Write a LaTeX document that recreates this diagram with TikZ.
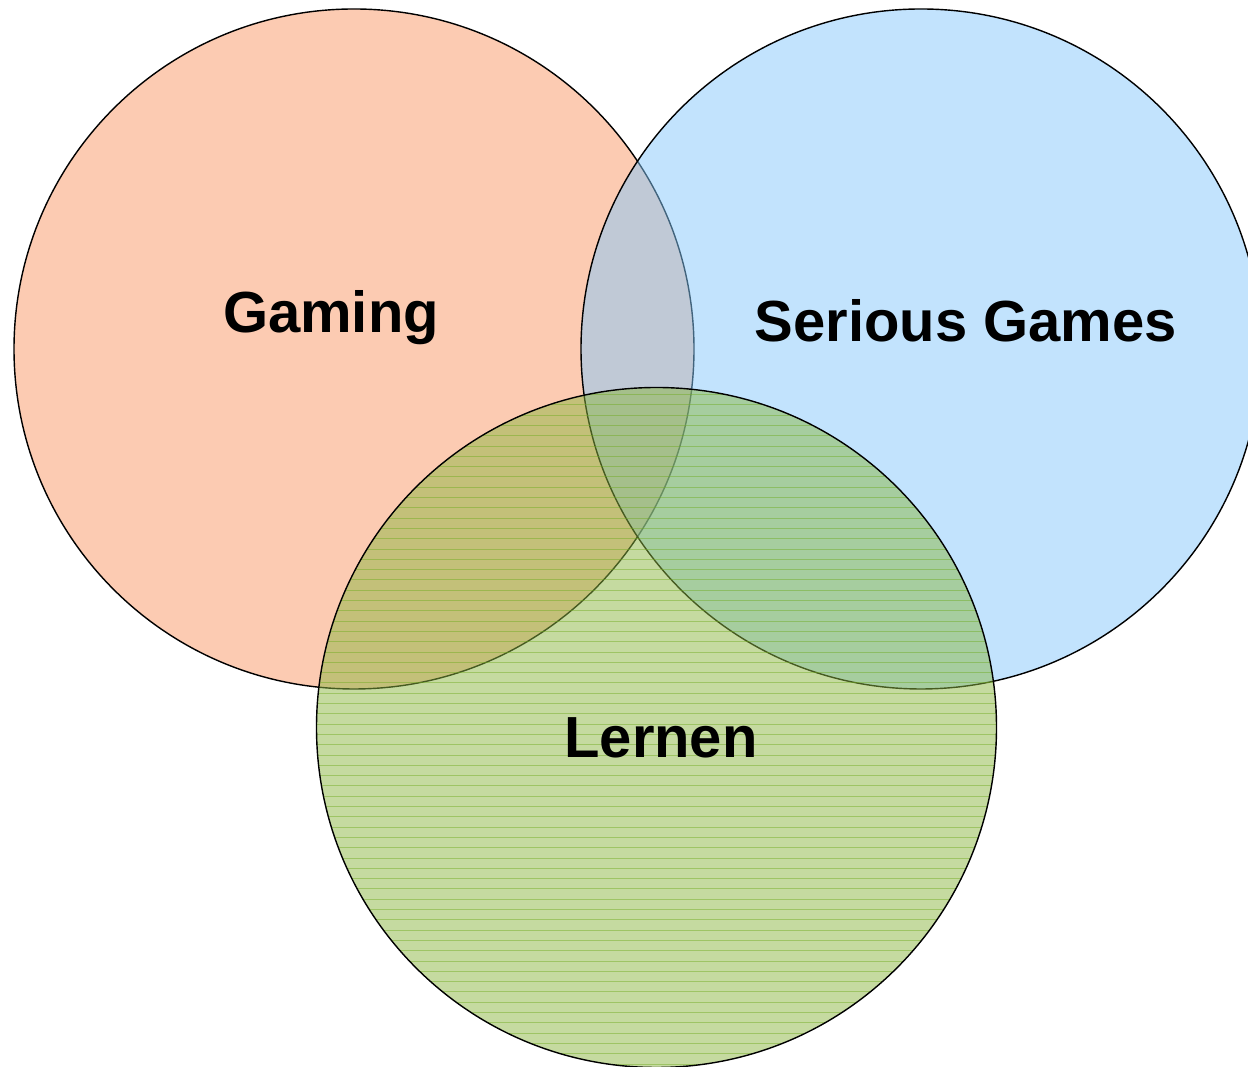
\documentclass[tikz,border=0pt]{standalone}
\usepackage{fontspec}
\setmainfont{Liberation Sans}
\usepackage{xcolor}
\usepackage{tikz}
\definecolor{gamingc}{RGB}{252,203,178}
\definecolor{seriousc}{RGB}{133,200,251}
\definecolor{lernenc}{RGB}{140,182,66}
\definecolor{hatchc}{RGB}{110,170,30}
\tikzset{
  ring/.style={draw=black, line width=0.8pt},
  hatch/.style={draw=hatchc, line width=0.5pt, opacity=0.45},
  lab/.style={text=black, font=\fontsize{33}{40}\selectfont\bfseries, inner sep=0pt, anchor=base},
}
\begin{document}
\begin{tikzpicture}[x=0.02cm, y=0.02cm]
  \useasboundingbox (0,0) rectangle (1248,1067);
  \clip (0,0) rectangle (1248,1067);
  \coordinate (Ogaming) at (354,718);
  \coordinate (Oserious) at (921,718);
  \coordinate (Olernen) at (656.5,339.5);
  \def\rC{340}
  % Gaming
  \fill[gamingc] (Ogaming) circle (\rC);
  \draw[ring] (Ogaming) circle (\rC);
  % Serious Games
  \fill[seriousc, opacity=0.5] (Oserious) circle (\rC);
  \draw[ring] (Oserious) circle (\rC);
  % Lernen, with horizontal lines
  \fill[lernenc, opacity=0.5] (Olernen) circle (\rC);
  \begin{scope}
    \clip (Olernen) circle (\rC);
    \foreach \k in {0,...,66}
      \draw[hatch] (300,{3+10.3*\k}) -- (1010,{3+10.3*\k});
  \end{scope}
  \draw[ring] (Olernen) circle (\rC);
  % labels
  \node[lab] (gaming) at (331,734) {Gaming};
  \node[lab] (serious) at (966,725) {Serious Games};
  \node[lab] (lernen) at (661,309) {Lernen};
\end{tikzpicture}
\end{document}
